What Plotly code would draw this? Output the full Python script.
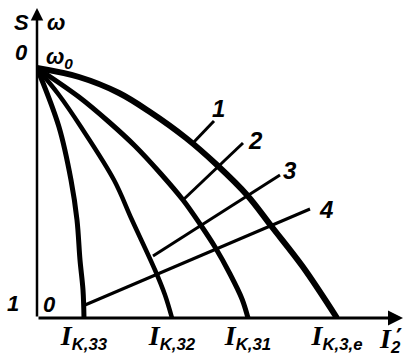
import plotly.graph_objects as go

# Speed characteristics omega(I2') of an induction motor for several rotor
# circuit resistances; omega in units of omega0, current in arbitrary units.
curve_e_i = [0.0, 0.42, 0.82, 1.13, 1.49, 1.80, 2.10, 2.35, 2.66, 3.00]
curve_e_w = [1.0, 0.964, 0.90, 0.824, 0.72, 0.612, 0.492, 0.364, 0.204, 0.0]

curve_31_i = [0.0, 0.42, 0.72, 0.98, 1.24, 1.46, 1.63, 1.78, 1.93, 2.05, 2.11]
curve_31_w = [1.0, 0.884, 0.784, 0.688, 0.576, 0.472, 0.376, 0.284, 0.176, 0.076, 0.0]

curve_32_i = [0.0, 0.22, 0.44, 0.77, 0.95, 1.18, 1.28, 1.35]
curve_32_w = [1.0, 0.892, 0.764, 0.552, 0.392, 0.192, 0.092, 0.0]

curve_33_i = [0.0, 0.22, 0.34, 0.40, 0.43, 0.46, 0.47]
curve_33_w = [1.0, 0.764, 0.552, 0.392, 0.232, 0.112, 0.0]

# Leader lines for the curve numbers: start point on a curve, end point near the number
leader_names = ["1", "2", "3", "4"]
leader_i = [[1.55, 1.77], [1.46, 2.06], [1.16, 2.43], [0.48, 2.73]]
leader_w = [[0.696, 0.788], [0.472, 0.70], [0.248, 0.572], [0.052, 0.436]]
leader_label_i = [1.81, 2.18, 2.53, 2.89]
leader_label_w = [0.84, 0.712, 0.592, 0.436]

# Short-circuit currents on the current axis
ik_vals = [0.47, 1.35, 2.11, 3.00]
ik_subs = ["K,33", "K,32", "K,31", "K,3,e"]

FONT = "Liberation Sans"
SERIF = "Liberation Serif"
BLACK = "black"

fig = go.Figure()

curves = [
    (curve_e_i, curve_e_w, 6),
    (curve_31_i, curve_31_w, 5),
    (curve_32_i, curve_32_w, 4.5),
    (curve_33_i, curve_33_w, 5),
]
for xs, ys, w in curves:
    fig.add_trace(go.Scatter(
        x=xs, y=ys, mode="lines",
        line=dict(color=BLACK, width=w, shape="spline", smoothing=1.0),
        hoverinfo="skip", showlegend=False, cliponaxis=False,
    ))

for xs, ys in zip(leader_i, leader_w):
    fig.add_trace(go.Scatter(
        x=xs, y=ys, mode="lines",
        line=dict(color=BLACK, width=3),
        hoverinfo="skip", showlegend=False,
    ))

annotations = []

# Axes drawn as arrows
annotations.append(dict(x=3.66, y=0, ax=0, ay=0, xref="x", yref="y",
                        axref="x", ayref="y", text="", showarrow=True,
                        arrowhead=2, arrowsize=1, arrowwidth=3, arrowcolor=BLACK))
annotations.append(dict(x=0, y=1.24, ax=0, ay=0, xref="x", yref="y",
                        axref="x", ayref="y", text="", showarrow=True,
                        arrowhead=2, arrowsize=1, arrowwidth=2.5, arrowcolor=BLACK))

lab_font = dict(family=FONT, size=24, color=BLACK, weight="bold", style="italic")
side_font = dict(family=FONT, size=22, color=BLACK, weight="bold", style="italic")

for name, xi, yi in zip(leader_names, leader_label_i, leader_label_w):
    annotations.append(dict(x=xi, y=yi, text=name, showarrow=False, font=lab_font,
                            xanchor="center", yanchor="middle"))

# Scale labels beside the vertical axis (paper units): slip S on the left,
# speed omega on the right
side_labels = [
    (-0.043, 0.928, "S"),
    (-0.041, 0.836, "0"),
    (-0.065, 0.047, "1"),
    (0.033, 0.044, "0"),
    (0.052, 0.928, "ω"),
    (0.062, 0.818, "ω<sub>0</sub>"),
]
for xp, yp, t in side_labels:
    annotations.append(dict(x=xp, y=yp, xref="paper", yref="paper", text=t,
                            xanchor="center", yanchor="middle",
                            showarrow=False, font=side_font))

# Current axis title I2' (y in paper units, below the plot area)
annotations.append(dict(
    x=3.53, y=-0.069, xref="x", yref="paper",
    xanchor="center", yanchor="middle",
    text=f"<span style='font-family:{SERIF};font-size:28px'>I</span><sub>2</sub>",
    showarrow=False, font=lab_font))
annotations.append(dict(x=3.62, y=-0.063, xref="x", yref="paper", text="′",
                        xanchor="center", yanchor="middle", showarrow=False,
                        font=dict(family="DejaVu Sans", size=24, color=BLACK,
                                  weight="bold")))

ik_text = [f"<span style='font-family:{SERIF};font-size:28px'>I</span><sub>{s}</sub>"
           for s in ik_subs]

fig.update_layout(
    width=406, height=360,
    margin=dict(l=37, r=0, t=0, b=42),
    paper_bgcolor="white", plot_bgcolor="white",
    xaxis=dict(range=[0, 3.69], showgrid=False, zeroline=False, showline=False,
               ticks="", tickvals=ik_vals, ticktext=ik_text,
               tickfont=lab_font, ticklabelstandoff=2, fixedrange=True),
    yaxis=dict(range=[0, 1.272], showgrid=False, zeroline=False, showline=False,
               showticklabels=False, ticks="", fixedrange=True),
    annotations=annotations,
    showlegend=False,
)

fig.write_html("out.html")
